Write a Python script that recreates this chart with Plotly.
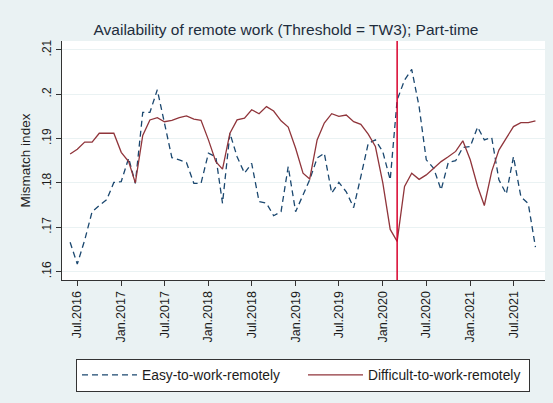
import pandas as pd
import plotly.graph_objects as go

# Monthly observations, Jun 2016 - Oct 2021
months = pd.date_range(start="2016-06-01", periods=65, freq="MS")

easy_remote = [
    .1666, .1617, .1671, .1735, .1749, .1762, .1801, .1803, .1856, .1799,
    .1959, .1959, .2010, .1935, .1857, .1852, .1846, .1799, .1799, .1867,
    .1859, .1754, .1912, .1859, .1822, .1844, .1758, .1754, .1726, .1735,
    .1837, .1735, .1771, .1807, .1856, .1867, .1777, .1801, .1780, .1744,
    .1814, .1889, .1897, .1870, .1807, .1987, .2032, .2056, .1972, .1852,
    .1833, .1784, .1846, .1850, .1880, .1882, .1926, .1897, .1902, .1807,
    .1775, .1859, .1769, .1753, .1655,
]

difficult_remote = [
    .1865, .1876, .1892, .1892, .1912, .1912, .1912, .1869, .1848, .1800,
    .1907, .1942, .1947, .1938, .1941, .1947, .1951, .1944, .1941, .1897,
    .1848, .1831, .1912, .1942, .1946, .1965, .1956, .1972, .1962, .1940,
    .1926, .1878, .1822, .1809, .1897, .1935, .1956, .1950, .1953, .1938,
    .1932, .1910, .1882, .1800, .1695, .1668, .1792, .1822, .1808, .1818,
    .1833, .1848, .1859, .1871, .1895, .1852, .1792, .1749, .1826, .1874,
    .1901, .1927, .1936, .1936, .1940,
]

x_tick_dates = ["2016-07-01", "2017-01-01", "2017-07-01", "2018-01-01",
                "2018-07-01", "2019-01-01", "2019-07-01", "2020-01-01",
                "2020-07-01", "2021-01-01", "2021-07-01"]
x_tick_labels = ["Jul.2016", "Jan.2017", "Jul.2017", "Jan.2018", "Jul.2018",
                 "Jan.2019", "Jul.2019", "Jan.2020", "Jul.2020", "Jan.2021",
                 "Jul.2021"]
y_tick_vals = [.16, .17, .18, .19, .20, .21]
y_tick_labels = [".16", ".17", ".18", ".19", ".2", ".21"]

covid_onset = "2020-03-01"

FONT = "Liberation Sans, Arial, sans-serif"
BG = "#eaf2f3"

fig = go.Figure()
fig.add_trace(go.Scatter(
    x=months, y=easy_remote, mode="lines", name="Easy-to-work-remotely",
    line=dict(color="#1a476f", width=1.3, dash="6px,4px"),
))
fig.add_trace(go.Scatter(
    x=months, y=difficult_remote, mode="lines", name="Difficult-to-work-remotely",
    line=dict(color="#90353b", width=1.3),
))

fig.add_shape(type="line", xref="x", yref="paper",
              x0=covid_onset, x1=covid_onset, y0=0, y1=1,
              line=dict(color="#d8002c", width=1.5))

fig.update_layout(
    width=553, height=403,
    margin=dict(l=62, r=8, t=41, b=123),
    paper_bgcolor=BG, plot_bgcolor="white",
    font=dict(family=FONT, color="#1c1c1c", size=12),
    title=dict(text="Availability of remote work (Threshold = TW3); Part-time",
               x=286 / 553, xanchor="center", xref="container",
               y=1 - 30 / 403, yanchor="middle", yref="container",
               font=dict(size=15.5, color="#1e2d3d", family=FONT)),
    showlegend=True,
    legend=dict(orientation="h", xref="container", yref="container",
                x=303 / 553, xanchor="center", y=1 - 375 / 403, yanchor="middle",
                bgcolor="white", bordercolor="#333333", borderwidth=1,
                entrywidth=156, entrywidthmode="pixels",
                font=dict(size=13.8, family=FONT, color="#1c1c1c"),
                itemwidth=55, tracegroupgap=0),
)

fig.update_xaxes(
    range=["2016-04-28", "2021-11-10"],
    tickmode="array", tickvals=x_tick_dates, ticktext=x_tick_labels,
    tickangle=-90, tickfont=dict(size=12.5),
    ticks="outside", ticklen=5, tickcolor="#333333",
    showline=True, linecolor="#333333", linewidth=1.2,
    showgrid=False, zeroline=False,
)
fig.update_yaxes(
    range=[0.1581, 0.2120],
    tickmode="array", tickvals=y_tick_vals, ticktext=y_tick_labels,
    tickangle=-90, tickfont=dict(size=12),
    ticks="outside", ticklen=5, tickcolor="#333333",
    showline=True, linecolor="#333333", linewidth=1.2,
    showgrid=True, gridcolor=BG, gridwidth=1.2, zeroline=False,
    title=dict(text="Mismatch index", font=dict(size=13.5), standoff=6),
)

fig.write_html("out.html")
